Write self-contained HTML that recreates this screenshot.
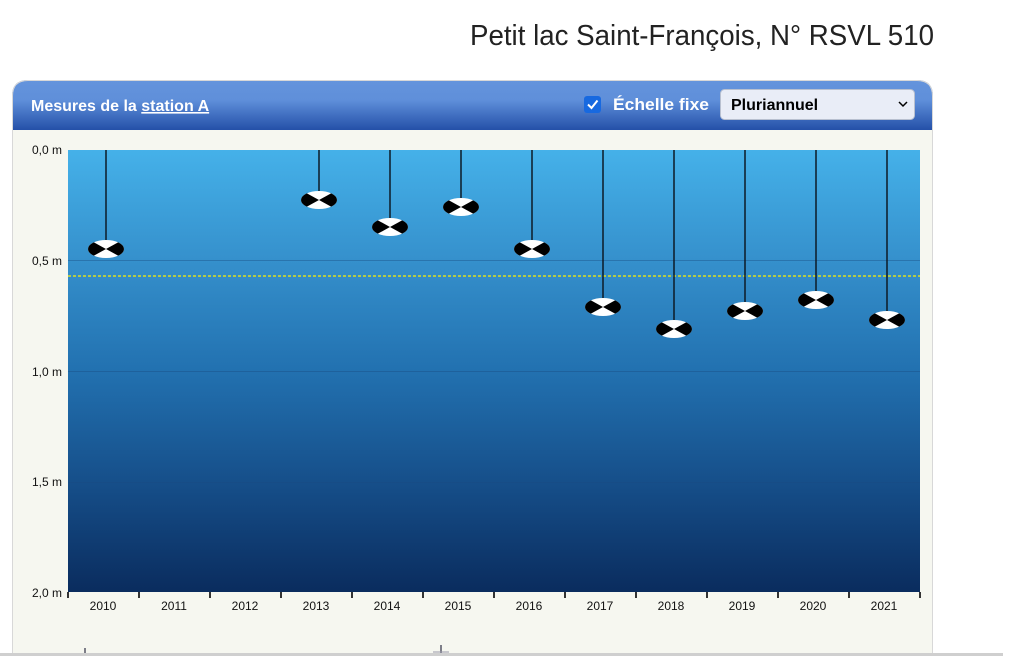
<!DOCTYPE html>
<html><head><meta charset="utf-8"><style>
html,body{margin:0;padding:0;background:#fff;width:1022px;height:656px;overflow:hidden}
svg{display:block}
</style></head><body>
<svg width="1022" height="656" viewBox="0 0 1022 656" xmlns="http://www.w3.org/2000/svg" font-family="Liberation Sans, Arial, sans-serif">
<defs>
<linearGradient id="hdr" x1="0" y1="0" x2="0" y2="1">
<stop offset="0" stop-color="#6494dc"/><stop offset="0.4" stop-color="#5f8fda"/><stop offset="1" stop-color="#2450a8"/>
</linearGradient>
<linearGradient id="water" x1="0" y1="0" x2="0" y2="1">
<stop offset="0" stop-color="#45b1e9"/><stop offset="0.25" stop-color="#3590cc"/><stop offset="0.5" stop-color="#2271b0"/><stop offset="0.75" stop-color="#164f8a"/><stop offset="1" stop-color="#0a2c5e"/>
</linearGradient>
<clipPath id="panelclip"><path d="M12,96 Q12,80 28,80 L917,80 Q933,80 933,96 L933,656 L12,656 Z"/></clipPath>
<clipPath id="dc"><ellipse cx="0" cy="0" rx="18" ry="9"/></clipPath>
<g id="disk">
<ellipse cx="0" cy="0" rx="18" ry="9" fill="#fff"/>
<g clip-path="url(#dc)"><polygon points="0,0 -20,-11 -20,11" fill="#000"/><polygon points="0,0 20,-11 20,11" fill="#000"/></g>
</g>
</defs>
<text x="934" y="45" font-size="29" fill="#222" text-anchor="end" textLength="464" lengthAdjust="spacingAndGlyphs">Petit lac Saint-François, N° RSVL 510</text>
<g clip-path="url(#panelclip)">
<rect x="12" y="80" width="921" height="580" fill="#f6f7f0"/>
<rect x="12" y="80" width="921" height="50" fill="url(#hdr)"/>
</g>
<path d="M12.5,656 L12.5,96 Q12.5,80.5 28,80.5 L917,80.5 Q932.5,80.5 932.5,96 L932.5,656" fill="none" stroke="#d8d8d8"/>
<text x="31" y="111" font-size="16" font-weight="bold" fill="#fff">Mesures de la <tspan text-decoration="underline">station A</tspan></text>
<rect x="584" y="96" width="17" height="17" rx="3" fill="#1769e0"/>
<path d="M588,104.5 L591.5,108 L597.5,100.5" fill="none" stroke="#fff" stroke-width="2"/>
<text x="613" y="110" font-size="16.5" font-weight="bold" fill="#fff" textLength="96" lengthAdjust="spacingAndGlyphs">Échelle fixe</text>
<rect x="720.5" y="89.5" width="194" height="30" rx="4" fill="#e9edf7" stroke="#b8c0d0"/>
<text x="731" y="110" font-size="16" font-weight="bold" fill="#000">Pluriannuel</text>
<path d="M899,102 L903,106 L907,102" fill="none" stroke="#000" stroke-width="1.5"/>
<rect x="68" y="150" width="852" height="442" fill="url(#water)"/>
<g stroke="#1a4c80" stroke-opacity="0.4" stroke-width="1">
<line x1="68" y1="260.5" x2="920" y2="260.5"/><line x1="68" y1="371.5" x2="920" y2="371.5"/><line x1="68" y1="482.5" x2="920" y2="482.5"/>
</g>
<line x1="68" y1="276" x2="920" y2="276" stroke="#ffee00" stroke-width="1.3" stroke-dasharray="3,2"/>
<g font-size="12" fill="#111" text-anchor="end">
<text x="62" y="154">0,0 m</text><text x="62" y="265">0,5 m</text><text x="62" y="376">1,0 m</text><text x="62" y="486">1,5 m</text><text x="62" y="597">2,0 m</text>
</g>
<g stroke="#333" stroke-width="2">
<line x1="68" y1="592" x2="68" y2="598"/><line x1="139" y1="592" x2="139" y2="598"/><line x1="210" y1="592" x2="210" y2="598"/><line x1="281" y1="592" x2="281" y2="598"/><line x1="352" y1="592" x2="352" y2="598"/><line x1="423" y1="592" x2="423" y2="598"/><line x1="494" y1="592" x2="494" y2="598"/><line x1="565" y1="592" x2="565" y2="598"/><line x1="636" y1="592" x2="636" y2="598"/><line x1="707" y1="592" x2="707" y2="598"/><line x1="778" y1="592" x2="778" y2="598"/><line x1="849" y1="592" x2="849" y2="598"/><line x1="920" y1="592" x2="920" y2="598"/>
</g>
<g font-size="12" fill="#111" text-anchor="middle">
<text x="103" y="610">2010</text><text x="174" y="610">2011</text><text x="245" y="610">2012</text><text x="316" y="610">2013</text><text x="387" y="610">2014</text><text x="458" y="610">2015</text><text x="529" y="610">2016</text><text x="600" y="610">2017</text><text x="671" y="610">2018</text><text x="742" y="610">2019</text><text x="813" y="610">2020</text><text x="884" y="610">2021</text>
</g>
<g stroke="#0d1a26" stroke-width="1.5">
<line x1="106" y1="150" x2="106" y2="240"/>
<line x1="319" y1="150" x2="319" y2="191"/>
<line x1="390" y1="150" x2="390" y2="218"/>
<line x1="461" y1="150" x2="461" y2="198"/>
<line x1="532" y1="150" x2="532" y2="240"/>
<line x1="603" y1="150" x2="603" y2="298"/>
<line x1="674" y1="150" x2="674" y2="320"/>
<line x1="745" y1="150" x2="745" y2="302"/>
<line x1="816" y1="150" x2="816" y2="291"/>
<line x1="887" y1="150" x2="887" y2="311"/>
</g>
<use href="#disk" x="106" y="249"/>
<use href="#disk" x="319" y="200"/>
<use href="#disk" x="390" y="227"/>
<use href="#disk" x="461" y="207"/>
<use href="#disk" x="532" y="249"/>
<use href="#disk" x="603" y="307"/>
<use href="#disk" x="674" y="329"/>
<use href="#disk" x="745" y="311"/>
<use href="#disk" x="816" y="300"/>
<use href="#disk" x="887" y="320"/>
<line x1="85" y1="648" x2="85" y2="654" stroke="#556" stroke-width="1.5"/>
<line x1="441" y1="645" x2="441" y2="653" stroke="#556" stroke-width="1.5"/>
<line x1="433" y1="652" x2="449" y2="652" stroke="#99a" stroke-width="1"/>
<rect x="0" y="653" width="1003" height="3" fill="#cfcfcf"/>
</svg>
</body></html>
